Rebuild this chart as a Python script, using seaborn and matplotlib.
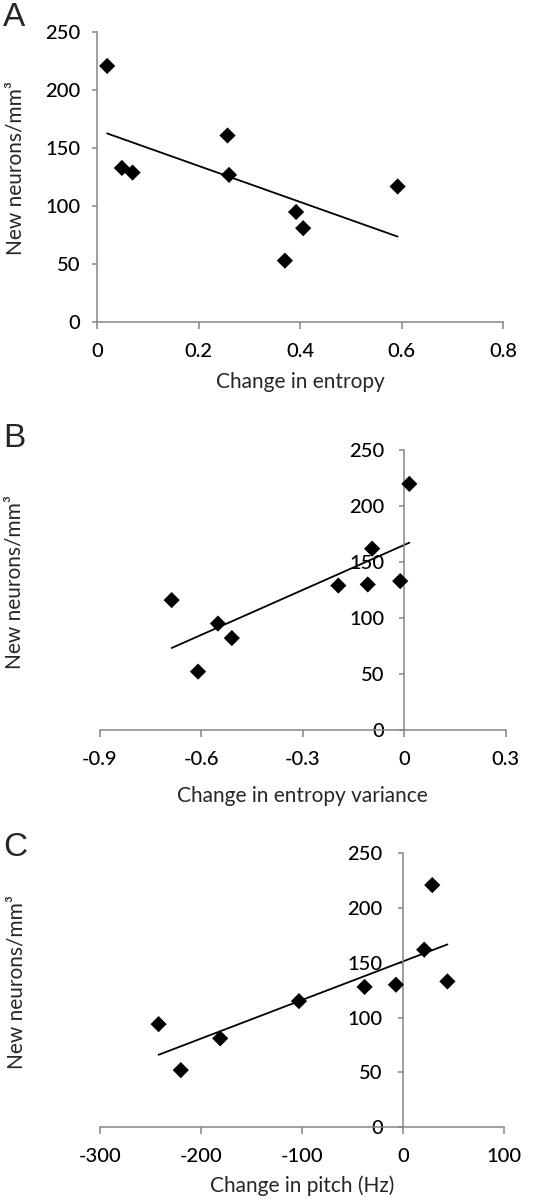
import matplotlib
matplotlib.use("Agg")
import matplotlib.pyplot as plt
import seaborn as sns

# panel A: change in entropy
entropy = [0.020, 0.049, 0.070, 0.257, 0.260, 0.392, 0.406, 0.370, 0.592]
neurons_a = [221, 133, 129, 161, 127, 95, 81, 53, 117]

# panel B: change in entropy variance
entropy_var = [0.015, -0.095, -0.195, -0.108, -0.012, -0.688, -0.551, -0.510, -0.610]
neurons_b = [220, 162, 129, 130, 133, 116, 95, 82, 52]

# panel C: change in pitch
pitch = [-242, -220, -181, -103, -38, -7, 21, 29, 44]
neurons_c = [94, 52, 81, 115, 128, 130, 162, 221, 133]

y_ticks = [0, 50, 100, 150, 200, 250]
xticks_a = [0, 0.2, 0.4, 0.6, 0.8]
xlabels_a = ["0", "0.2", "0.4", "0.6", "0.8"]
xticks_b = [-0.9, -0.6, -0.3, 0, 0.3]
xlabels_b = ["-0.9", "-0.6", "-0.3", "0", "0.3"]
xticks_c = [-300, -200, -100, 0, 100]
xlabels_c = ["-300", "-200", "-100", "0", "100"]

sns.set_style("ticks")
plt.rcParams["font.family"] = ["Lato", "DejaVu Sans"]
plt.rcParams["font.weight"] = "medium"

fig = plt.figure(figsize=(5.35, 11.99), dpi=100)
gray = "#858585"

panels = [
    # x, y, ticks, labels, xlabel, rect, letter, letter y, spine at zero, xlabel y, ylabel x, ytick pad
    (entropy, neurons_a, xticks_a, xlabels_a, "Change in entropy",
     [0.1813, 0.7314, 0.7594, 0.2416], "A", 0.998, False, -0.172, -0.177, 8.5),
    (entropy_var, neurons_b, xticks_b, xlabels_b, "Change in entropy variance",
     [0.1869, 0.3914, 0.7583, 0.2330], "B", 0.647, True, -0.200, -0.185, 11),
    (pitch, neurons_c, xticks_c, xlabels_c, "Change in pitch (Hz)",
     [0.1869, 0.0600, 0.7551, 0.2283], "C", 0.306, True, -0.175, -0.181, 11),
]

for x, y, xt, xl, xlab, rect, letter, ly, zero_spine, xly, ylx, ypad in panels:
    ax = fig.add_axes(rect)
    sns.regplot(x=x, y=y, ax=ax, ci=None, marker="D", color="black",
                scatter_kws={"s": 68, "edgecolor": "none", "alpha": 1, "zorder": 3},
                line_kws={"color": "black", "lw": 1.3})
    ax.set_xlim(xt[0], xt[-1])
    ax.set_ylim(0, 250)
    ax.set_xticks(xt)
    ax.set_xticklabels(xl)
    ax.set_yticks(y_ticks)
    ax.set_yticklabels([str(v) for v in y_ticks])
    for side in ["top", "right"]:
        ax.spines[side].set_visible(False)
    for side in ["left", "bottom"]:
        ax.spines[side].set_color(gray)
        ax.spines[side].set_linewidth(1.1)
    if zero_spine:
        ax.spines["left"].set_position(("data", 0))
    ax.tick_params(axis="x", direction="out", length=5, width=1.1, color=gray,
                   labelsize=14.5, pad=10, labelcolor="black")
    ax.tick_params(axis="y", direction="out", length=3.5, width=1.1, color=gray,
                   labelsize=14.5, pad=ypad, labelcolor="black")
    ax.set_xlabel(xlab, fontsize=15)
    ax.set_ylabel("New neurons/mm³", fontsize=15)
    ax.xaxis.set_label_coords(0.5, xly)
    ax.xaxis.label.set_va("top")
    ax.yaxis.set_label_coords(ylx, 0.53)
    ax.set_facecolor("white")
    fig.text(0.006, ly, letter, fontsize=24, family="Liberation Sans",
             fontweight="normal", va="top", ha="left")

fig.savefig("out.png", dpi=100, facecolor="white")
